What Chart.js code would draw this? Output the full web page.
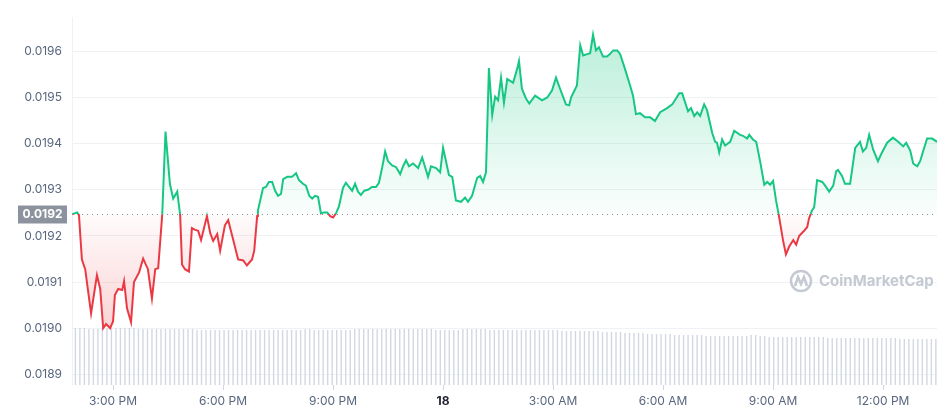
<!DOCTYPE html>
<html lang="en">
<head>
  <meta charset="UTF-8">
  <title>Price chart</title>
  <script src="https://cdn.jsdelivr.net/npm/chart.js"></script>
  <style>
    * { margin: 0; padding: 0; box-sizing: border-box; }
    body { background: #fff; width: 949px; height: 420px; overflow: hidden; }
    .chart-container { position: relative; width: 949px; height: 420px; }
  </style>
</head>
<body>
  <div class="chart-container">
    <canvas id="priceChart"></canvas>
  </div>

  <script>
    // hours since midnight of the 17th
    const times = [13.88,14.02,14.07,14.15,14.24,14.40,14.56,14.65,14.73,14.81,14.92,15.00,15.05,15.14,15.25,15.30,15.38,15.49,15.57,15.71,15.82,15.95,16.06,16.15,16.23,16.34,
      16.43,16.55,16.64,16.75,16.83,16.88,16.96,17.07,17.15,17.24,17.32,17.40,17.56,17.65,17.73,17.84,17.92,18.05,18.14,18.25,18.41,18.55,18.65,18.79,18.85,18.93,18.95,
      19.09,19.17,19.25,19.34,19.42,19.50,19.58,19.64,19.75,19.88,19.99,20.07,20.18,20.26,20.35,20.43,20.51,20.59,20.67,20.75,20.84,20.92,21.00,21.08,21.16,21.27,21.35,
      21.44,21.52,21.60,21.68,21.76,21.85,21.95,22.06,22.17,22.25,22.34,22.42,22.50,22.61,22.72,22.83,22.91,22.99,23.07,23.18,23.32,23.43,23.59,23.67,23.81,23.92,24.00,
      24.16,24.25,24.35,24.49,24.60,24.68,24.79,24.93,25.01,25.09,25.17,25.25,25.34,25.42,25.50,25.58,25.66,25.75,25.83,25.91,26.02,26.07,26.15,26.26,26.35,26.51,26.70,
      26.84,26.97,27.08,27.19,27.35,27.44,27.49,27.65,27.74,27.82,27.93,28.01,28.09,28.17,28.25,28.36,28.47,28.55,28.64,28.75,28.83,28.96,29.10,29.18,29.26,29.37,29.51,
      29.65,29.78,29.92,30.11,30.25,30.44,30.52,30.68,30.76,30.85,30.93,31.01,31.12,31.20,31.34,31.42,31.47,31.53,31.61,31.69,31.83,31.94,32.10,32.18,32.29,32.35,32.45,
      32.54,32.65,32.76,32.84,32.92,33.00,33.08,33.16,33.27,33.35,33.44,33.55,33.63,33.71,33.82,33.93,33.98,34.06,34.12,34.20,34.34,34.42,34.53,34.64,34.72,34.77,34.88,
      34.96,35.10,35.24,35.37,35.45,35.54,35.62,35.73,35.86,35.97,36.11,36.27,36.41,36.55,36.63,36.74,36.82,36.93,37.01,37.09,37.20,37.34,37.47];

    const prices = [0.019247,0.019251,0.019245,0.019149,0.019128,0.019032,0.019115,0.019085,0.019000,0.019009,0.019000,0.019015,0.019072,0.019085,0.019083,0.019102,0.019043,0.019013,0.019100,0.019121,0.019151,0.019128,0.019064,0.019128,0.019130,0.019245,
      0.019426,0.019313,0.019281,0.019296,0.019245,0.019138,0.019128,0.019123,0.019217,0.019213,0.019211,0.019191,0.019243,0.019206,0.019189,0.019204,0.019168,0.019223,0.019234,0.019200,0.019149,0.019147,0.019136,0.019149,0.019168,0.019243,0.019255,
      0.019304,0.019306,0.019317,0.019317,0.019298,0.019287,0.019291,0.019323,0.019328,0.019328,0.019336,0.019321,0.019313,0.019309,0.019287,0.019281,0.019287,0.019285,0.019249,0.019251,0.019251,0.019243,0.019240,0.019249,0.019264,0.019304,0.019315,
      0.019306,0.019298,0.019313,0.019296,0.019289,0.019298,0.019300,0.019306,0.019306,0.019315,0.019349,0.019383,0.019362,0.019353,0.019349,0.019334,0.019351,0.019364,0.019351,0.019357,0.019347,0.019370,0.019328,0.019351,0.019347,0.019338,0.019391,
      0.019332,0.019328,0.019277,0.019274,0.019283,0.019274,0.019287,0.019326,0.019330,0.019317,0.019338,0.019564,0.019462,0.019502,0.019494,0.019543,0.019489,0.019540,0.019536,0.019532,0.019562,0.019579,0.019519,0.019498,0.019487,0.019504,0.019494,
      0.019500,0.019515,0.019543,0.019519,0.019485,0.019483,0.019500,0.019526,0.019613,0.019591,0.019594,0.019596,0.019636,0.019602,0.019609,0.019589,0.019589,0.019594,0.019602,0.019602,0.019594,0.019562,0.019526,0.019504,0.019464,0.019466,0.019457,
      0.019457,0.019449,0.019468,0.019477,0.019485,0.019509,0.019509,0.019470,0.019477,0.019460,0.019468,0.019460,0.019485,0.019472,0.019423,0.019404,0.019402,0.019381,0.019409,0.019396,0.019404,0.019428,0.019419,0.019417,0.019411,0.019419,0.019409,
      0.019404,0.019360,0.019311,0.019317,0.019311,0.019319,0.019277,0.019243,0.019191,0.019160,0.019177,0.019191,0.019181,0.019200,0.019209,0.019219,0.019238,0.019255,0.019262,0.019321,0.019317,0.019309,0.019296,0.019309,0.019340,0.019343,0.019330,
      0.019313,0.019313,0.019391,0.019404,0.019383,0.019391,0.019419,0.019387,0.019362,0.019381,0.019402,0.019413,0.019404,0.019394,0.019402,0.019385,0.019357,0.019351,0.019362,0.019383,0.019411,0.019411,0.019404];

    const basePrice = 0.019247;
    const baseLabel = '0.0192';

    const volume = [
      5.8,5.8,5.8,5.7,5.7,5.7,5.8,5.8,5.8,5.8,5.8,5.8,5.8,5.8,5.7,5.7,5.7,5.7,5.7,5.7,5.7,5.7,5.7,5.7,
      5.7,5.7,5.7,5.6,5.6,5.6,5.6,5.6,5.6,5.6,5.6,5.6,5.6,5.6,5.6,5.6,5.6,5.6,5.6,5.6,5.6,5.6,5.6,5.6,
      5.6,5.6,5.6,5.7,5.7,5.6,5.6,5.6,5.6,5.6,5.6,5.6,5.6,5.6,5.7,5.7,5.7,5.7,5.7,5.7,5.7,5.7,5.7,5.7,
      5.7,5.7,5.7,5.7,5.7,5.7,5.7,5.7,5.6,5.6,5.6,5.6,5.6,5.6,5.7,5.7,5.7,5.7,5.7,5.7,5.6,5.6,5.6,5.6,
      5.6,5.6,5.6,5.6,5.6,5.6,5.6,5.6,5.6,5.6,5.6,5.6,5.5,5.5,5.5,5.5,5.5,5.5,5.5,5.5,5.5,5.4,5.4,5.4,
      5.4,5.4,5.3,5.3,5.3,5.3,5.3,5.2,5.2,5.2,5.2,5.2,5.2,5.1,5.1,5.1,5.1,5.1,5.1,5.1,5.0,5.0,5.0,5.0,
      5.0,5.0,5.0,5.0,5.0,5.0,5.1,5.1,5.0,5.0,4.9,4.9,4.9,4.9,4.9,4.9,4.9,4.9,4.9,4.9,4.9,4.9,4.9,4.8,
      4.8,4.8,4.8,4.8,4.8,4.8,4.8,4.8,4.8,4.8,4.8,4.8,4.8,4.8,4.8,4.7,4.7,4.7,4.7,4.7,4.7,4.7,4.7,4.7];

    const yTicks = [0.0189, 0.0190, 0.0191, 0.0192, 0.0193, 0.0194, 0.0195, 0.0196];
    const xTickHours = [15, 18, 21, 24, 27, 30, 33, 36];
    const xTickLabels = ['3:00 PM', '6:00 PM', '9:00 PM', '18', '3:00 AM', '6:00 AM', '9:00 AM', '12:00 PM'];

    const GREEN = '#16c784';
    const RED = '#ea3943';

    const overlayPlugin = {
      id: 'overlay',
      afterDatasetsDraw(chart) {
        const { ctx, chartArea, scales } = chart;
        const by = Math.round(scales.y.getPixelForValue(basePrice)) + 0.5;
        ctx.save();
        // dotted base line
        ctx.strokeStyle = '#8a919e';
        ctx.lineWidth = 1;
        ctx.setLineDash([1, 4]);
        ctx.beginPath();
        ctx.moveTo(chartArea.left, by);
        ctx.lineTo(chartArea.right, by);
        ctx.stroke();
        ctx.setLineDash([]);
        // base label box
        ctx.fillStyle = '#8d939e';
        ctx.fillRect(18, by - 9, 49, 18);
        ctx.fillStyle = '#fff';
        ctx.font = 'bold 12px Inter, sans-serif';
        ctx.textAlign = 'center';
        ctx.textBaseline = 'middle';
        ctx.fillText(baseLabel, 42.5, by);
        // watermark
        ctx.strokeStyle = '#c4c9d2';
        ctx.lineWidth = 2.5;
        ctx.beginPath();
        ctx.arc(801, 281, 10, 0, Math.PI * 2);
        ctx.stroke();
        ctx.beginPath();
        ctx.moveTo(795, 286);
        ctx.lineTo(798, 277);
        ctx.lineTo(801, 284);
        ctx.lineTo(804, 277);
        ctx.lineTo(807, 286);
        ctx.stroke();
        ctx.fillStyle = '#c4c9d2';
        ctx.font = 'bold 15px Inter, sans-serif';
        ctx.textAlign = 'left';
        ctx.fillText('CoinMarketCap', 819, 281);
        ctx.restore();
      }
    };

    const ctx = document.getElementById('priceChart').getContext('2d');
    const chart = new Chart(ctx, {
      data: {
        datasets: [{
          type: 'line',
          data: times.map((t, i) => ({ x: t, y: prices[i] })),
          borderColor: GREEN,
          borderWidth: 2,
          pointRadius: 0,
          tension: 0,
          fill: { target: { value: basePrice }, above: 'rgba(22,199,132,0.2)', below: 'rgba(234,57,67,0.15)' },
          xAxisID: 'x',
          yAxisID: 'y',
          order: 0
        }, {
          type: 'bar',
          data: volume,
          backgroundColor: '#d2d7e1',
          barPercentage: 0.62,
          categoryPercentage: 1,
          xAxisID: 'x2',
          yAxisID: 'y2',
          order: 1
        }]
      },
      plugins: [overlayPlugin],
      options: {
        responsive: true,
        maintainAspectRatio: false,
        animation: false,
        layout: { padding: { top: 10, right: 12, left: 0, bottom: 0 } },
        plugins: { legend: { display: false }, tooltip: { enabled: false } },
        scales: {
          x: {
            type: 'linear',
            min: 13.88,
            max: 37.47,
            afterBuildTicks(scale) { scale.ticks = xTickHours.map(v => ({ value: v })); },
            afterFit(scale) { scale.height = 35; },
            ticks: {
              callback: (v) => xTickLabels[xTickHours.indexOf(v)],
              color: (c) => c.tick && c.tick.value === 24 ? '#222531' : '#58667e',
              font: (c) => ({ family: 'Inter, sans-serif', size: 12, weight: c.tick && c.tick.value === 24 ? 'bold' : 'normal' }),
              maxRotation: 0,
              autoSkip: false,
              padding: 4
            },
            grid: { drawOnChartArea: false, drawTicks: true, tickLength: 5, color: '#cfd6e4' },
            border: { display: false }
          },
          x2: {
            type: 'category',
            labels: volume.map((_, i) => i),
            display: false,
            offset: true
          },
          y: {
            min: 0.018877,
            max: 0.019674,
            afterBuildTicks(scale) { scale.ticks = yTicks.map(v => ({ value: v })); },
            afterFit(scale) { scale.width = 72; },
            ticks: {
              callback: (v) => v.toFixed(4),
              color: '#58667e',
              font: { family: 'Inter, sans-serif', size: 12 },
              padding: 10
            },
            grid: { color: '#eff2f5', drawTicks: false },
            border: { display: true, color: '#eff2f5' }
          },
          y2: {
            min: 0,
            max: 37.5,
            display: false
          }
        }
      }
    });

    // gradients need the laid-out chart area, so set them and redraw
    const area = chart.chartArea;
    const yScale = chart.scales.y;
    const by = yScale.getPixelForValue(basePrice);
    const r = (by - area.top) / (area.bottom - area.top);
    const lineGrad = ctx.createLinearGradient(0, area.top, 0, area.bottom);
    lineGrad.addColorStop(0, GREEN);
    lineGrad.addColorStop(r, GREEN);
    lineGrad.addColorStop(r, RED);
    lineGrad.addColorStop(1, RED);
    const upGrad = ctx.createLinearGradient(0, area.top, 0, by);
    upGrad.addColorStop(0, 'rgba(22,199,132,0.32)');
    upGrad.addColorStop(1, 'rgba(22,199,132,0.02)');
    const downGrad = ctx.createLinearGradient(0, by, 0, yScale.getPixelForValue(0.0190));
    downGrad.addColorStop(0, 'rgba(234,57,67,0.02)');
    downGrad.addColorStop(1, 'rgba(234,57,67,0.22)');
    const ds = chart.data.datasets[0];
    ds.borderColor = lineGrad;
    ds.fill = { target: { value: basePrice }, above: upGrad, below: downGrad };
    chart.update();
  </script>
</body>
</html>
